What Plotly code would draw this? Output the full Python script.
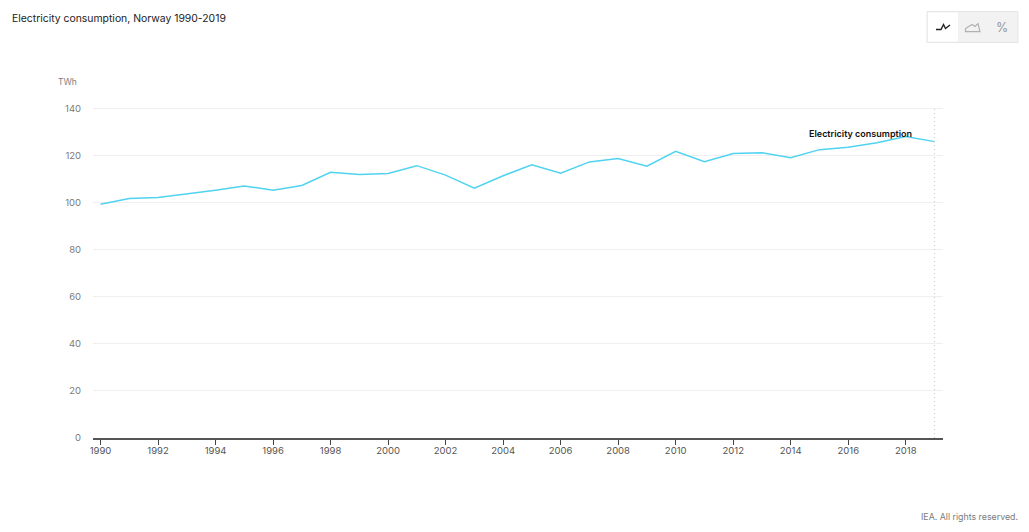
import plotly.graph_objects as go

years = list(range(1990, 2020))
consumption = [99.2, 101.7, 102.1, 103.5, 105.2, 107.0, 105.2, 107.2, 112.8, 111.9,
               112.3, 115.6, 111.6, 106.0, 111.3, 116.0, 112.4, 117.2, 118.6, 115.4,
               121.7, 117.3, 120.8, 121.1, 119.0, 122.4, 123.4, 125.3, 128.0, 125.8]
y_ticks = [0, 20, 40, 60, 80, 100, 120, 140]
x_ticks = list(range(1990, 2019, 2))
series_name = "Electricity consumption"
title_text = "Electricity consumption, Norway 1990-2019"
unit = "TWh"
credit = "IEA. All rights reserved."

W, H = 1029, 532
L, R, T, B = 93, 943, 106.5, 437.7
FONT = "Inter"
GREY = "#7b7b7b"

def px(x): return (x - L) / (R - L)
def py(y): return (B - y) / (B - T)

def path(points, close=False):
    s = "M" + " L".join(f"{px(a):.5f},{py(b):.5f}" for a, b in points)
    return s + (" Z" if close else "")

fig = go.Figure(go.Scatter(x=years, y=consumption, mode="lines",
                           line=dict(color="#4fd3f0", width=1.5), hoverinfo="x+y", name=series_name))

shapes = [
    dict(type="line", x0=2019, x1=2019, y0=0, y1=140, xref="x", yref="y",
         line=dict(color="#c8c8c8", width=1, dash="1px,3px")),
    dict(type="rect", xref="paper", yref="paper", x0=px(927), x1=px(1018), y0=py(42), y1=py(11),
         fillcolor="#f2f2f2", line=dict(color="#e6e6e6", width=1)),
    dict(type="rect", xref="paper", yref="paper", x0=px(928), x1=px(958), y0=py(41), y1=py(12),
         fillcolor="#ffffff", line=dict(width=0)),
    dict(type="path", xref="paper", yref="paper",
         path=path([(936, 29), (941, 29), (943.5, 24), (945.5, 28), (950, 24.5)]),
         line=dict(color="#222222", width=1.4)),
    dict(type="path", xref="paper", yref="paper",
         path=path([(965.5, 31), (965.5, 28), (972, 24), (975, 26), (978, 23), (980, 31)], True),
         line=dict(color="#b0b0b0", width=1.2)),
]

annotations = [
    dict(text=title_text, xref="paper", yref="paper", x=px(10), y=py(18.3), xanchor="left", yanchor="middle",
         showarrow=False, font=dict(family=FONT, size=10.4, color="#222222")),
    dict(text=unit, xref="paper", yref="paper", x=px(56), y=py(81), xanchor="left", yanchor="middle",
         showarrow=False, font=dict(family=FONT, size=8.5, color=GREY)),
    dict(text=series_name, x=2018, y=128, xref="x", yref="y", xanchor="right", xshift=8, yshift=-5, yanchor="bottom",
         showarrow=False, font=dict(family=FONT, size=9, color="#111111", weight=600)),
    dict(text=credit, xref="paper", yref="paper", x=px(1020), y=py(516), xanchor="right", yanchor="middle",
         showarrow=False, font=dict(family=FONT, size=8.8, color=GREY)),
    dict(text="%", xref="paper", yref="paper", x=px(1002), y=py(27), xanchor="center", yanchor="middle",
         showarrow=False, font=dict(family=FONT, size=12.5, color="#969696")),
]

fig.update_layout(
    width=W, height=H, autosize=False,
    margin=dict(l=L, r=W - R, t=T, b=H - B, pad=0),
    paper_bgcolor="#ffffff", plot_bgcolor="#ffffff",
    showlegend=False, shapes=shapes, annotations=annotations,
    font=dict(family=FONT, size=10, color=GREY),
)
fig.update_xaxes(range=[1989.74, 2019.295], tickmode="array", tickvals=x_ticks,
                 ticks="outside", ticklen=5, tickwidth=1, tickcolor="#444444",
                 showgrid=False, zeroline=False, showline=True, linecolor="#555555", linewidth=1.5,
                 ticklabelstandoff=-2,
                 tickfont=dict(family=FONT, size=9.5, color="#555555"))
fig.update_yaxes(range=[0, 140.5], tickmode="array", tickvals=y_ticks,
                 showgrid=True, gridcolor="#efefef", gridwidth=1, zeroline=False, showline=False,
                 ticks="outside", ticklen=9, tickcolor="rgba(0,0,0,0)",
                 tickfont=dict(family=FONT, size=9.5, color=GREY))

fig.write_html("out.html", config={"displayModeBar": False},
               post_script="document.body.style.margin='0';document.body.style.overflow='hidden';")
